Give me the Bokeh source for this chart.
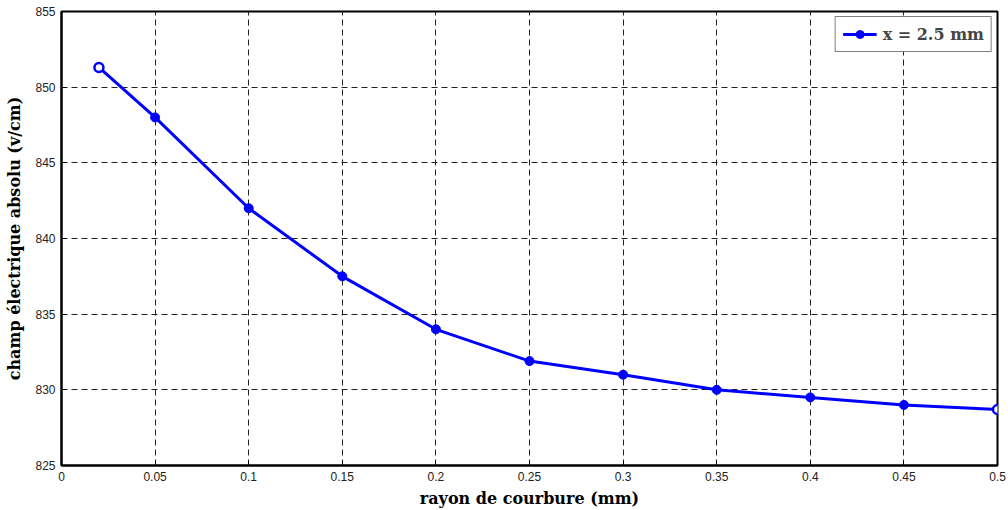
from bokeh.plotting import figure
from bokeh.models import FixedTicker, Legend, LegendItem, Range1d
from bokeh.embed import file_html
from bokeh.resources import INLINE

# Electric field vs. radius of curvature at x = 2.5 mm
rayon = [0.02, 0.05, 0.1, 0.15, 0.2, 0.25, 0.3, 0.35, 0.4, 0.45, 0.5]
champ = [851.3, 848.0, 842.0, 837.5, 834.0, 831.9, 831.0, 830.0, 829.5, 829.0, 828.7]

x_ticks = [0, 0.05, 0.1, 0.15, 0.2, 0.25, 0.3, 0.35, 0.4, 0.45, 0.5]
x_tick_labels = ["0", "0.05", "0.1", "0.15", "0.2", "0.25", "0.3", "0.35", "0.4", "0.45", "0.5"]
y_ticks = [825, 830, 835, 840, 845, 850, 855]

p = figure(width=1008, height=510, output_backend="svg", toolbar_location=None,
           x_range=Range1d(0, 0.5), y_range=Range1d(825, 855),
           min_border_left=61, min_border_right=11, min_border_top=11, min_border_bottom=45)

p.background_fill_color = "white"
p.border_fill_color = "white"
p.outline_line_color = "black"
p.outline_line_width = 2

for ax in (p.xaxis, p.yaxis):
    ax.axis_line_color = "black"
    ax.axis_line_width = 2
    ax.major_tick_in = 5
    ax.major_tick_out = 0
    ax.minor_tick_line_color = None
    ax.major_label_text_font = "Liberation Sans"
    ax.major_label_text_font_size = "12px"
    ax.major_label_text_color = "#222222"
    ax.axis_label_text_font = "DejaVu Serif"
    ax.axis_label_text_font_style = "bold"
    ax.axis_label_text_font_size = "16px"
    ax.axis_label_text_color = "black"

p.xaxis.ticker = FixedTicker(ticks=x_ticks)
p.xaxis.major_label_overrides = {t: s for t, s in zip(x_ticks, x_tick_labels)}
p.yaxis.ticker = FixedTicker(ticks=y_ticks)
p.xaxis.axis_label = "rayon de courbure (mm)"
p.yaxis.axis_label = "champ électrique absolu (v/cm)"
p.xaxis.major_label_standoff = 6
p.yaxis.major_label_standoff = 6
p.xaxis.axis_label_standoff = 5
p.yaxis.axis_label_standoff = 8

for g in (p.xgrid, p.ygrid):
    g.grid_line_color = "#222222"
    g.grid_line_dash = "6 4"
    g.grid_line_width = 1

line = p.line(rayon, champ, line_color="#0000FF", line_width=3)
inner = p.scatter(rayon[1:-1], champ[1:-1], size=9, marker="circle",
                  fill_color="#0000FF", line_color="#0000FF")
ends = p.scatter([rayon[0], rayon[-1]], [champ[0], champ[-1]], size=9, marker="circle",
                 fill_color="white", line_color="#0000FF", line_width=2.5)

legend = Legend(items=[LegendItem(label="x = 2.5 mm", renderers=[line, inner])],
                location="top_right")
legend.label_text_font = "DejaVu Serif"
legend.label_text_font_style = "bold"
legend.label_text_font_size = "16px"
legend.label_standoff = 6
legend.glyph_width = 34
legend.border_line_color = "black"
legend.border_line_width = 1
legend.padding = 7
legend.margin = 5
legend.spacing = 0
legend.background_fill_alpha = 1
p.add_layout(legend)

open("out.html", "w").write(file_html(p, INLINE))
